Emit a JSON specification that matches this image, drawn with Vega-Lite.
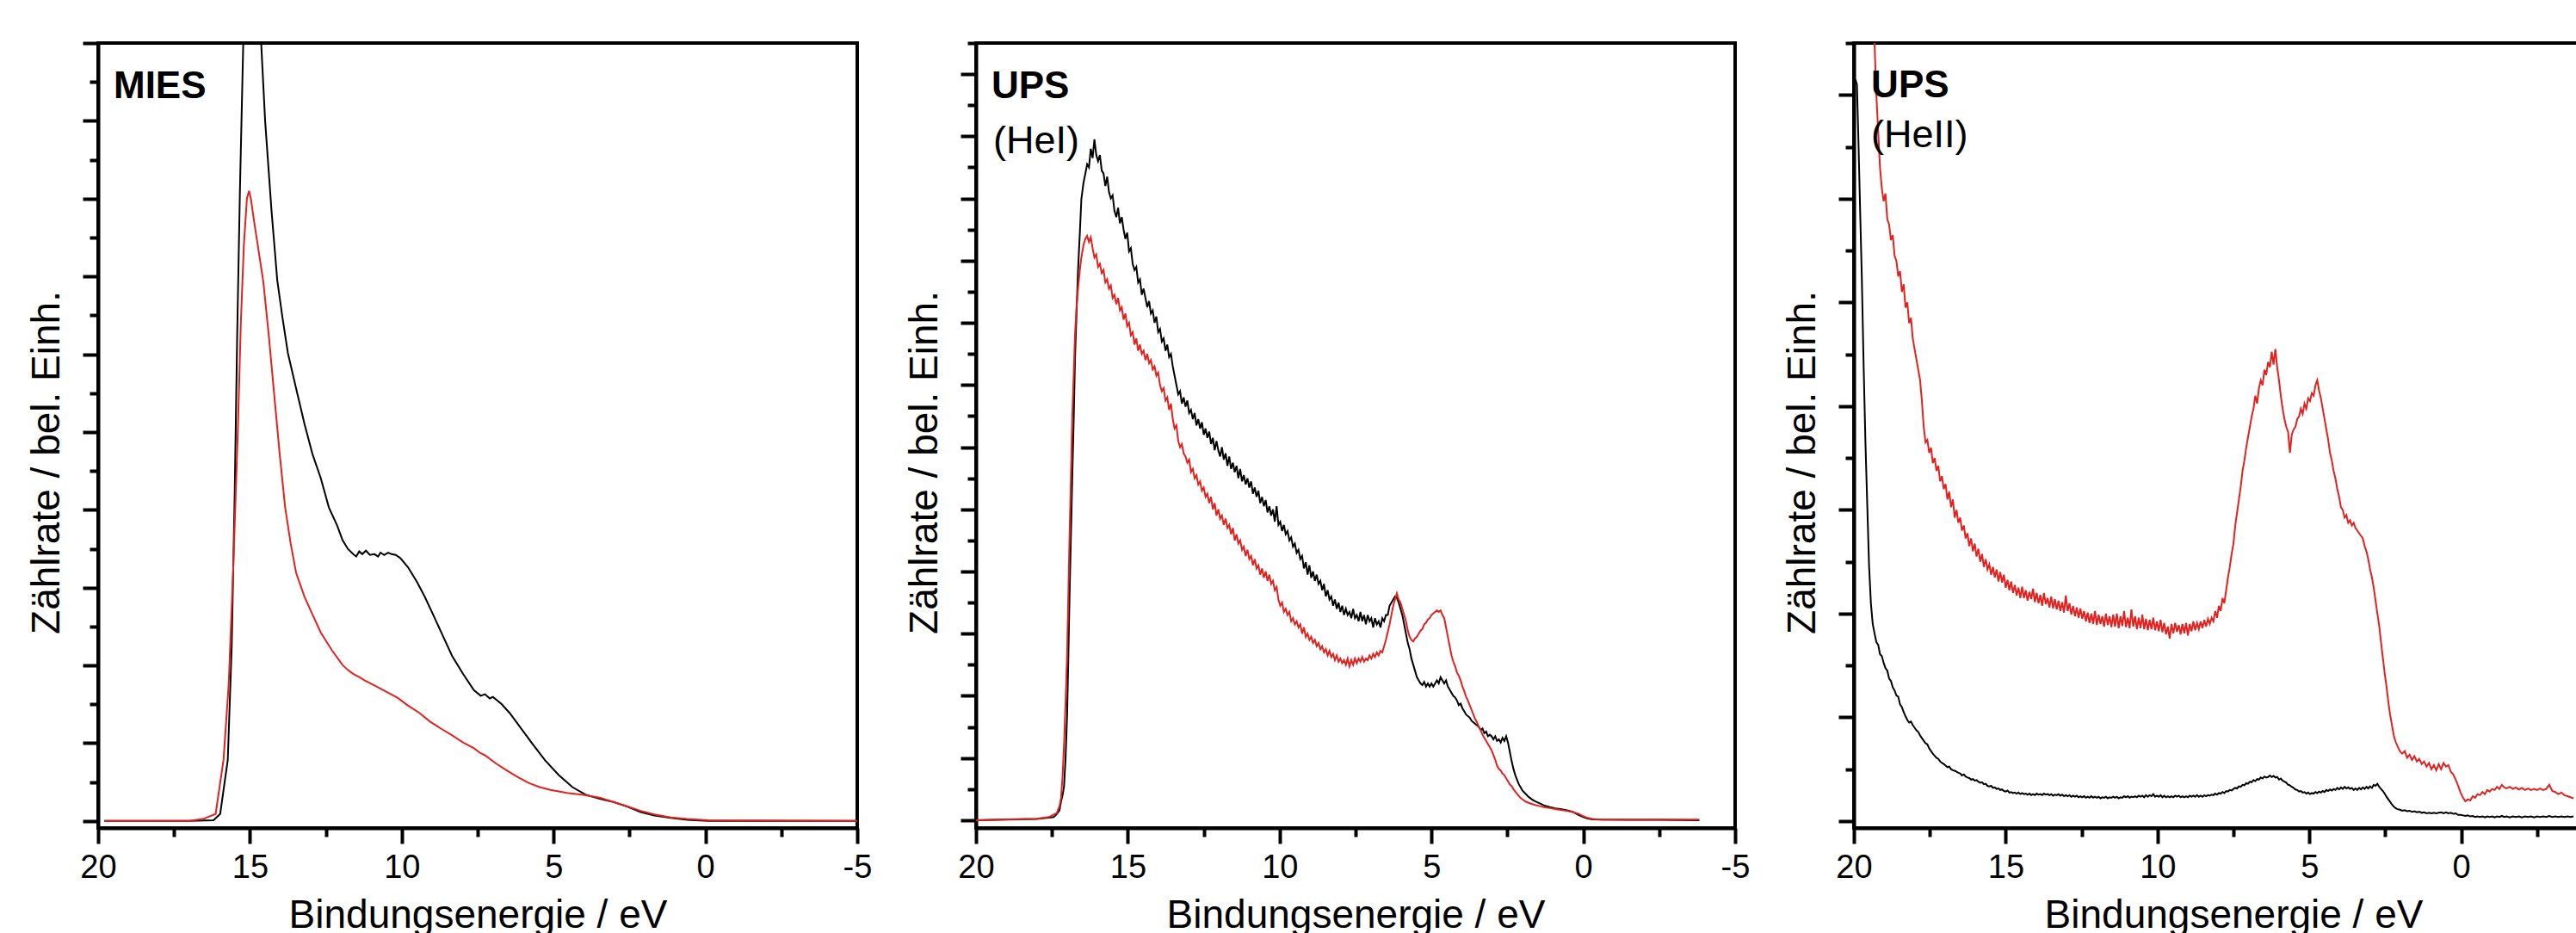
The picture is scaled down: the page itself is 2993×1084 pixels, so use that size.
{
  "$schema": "https://vega.github.io/schema/vega-lite/v6.json",
  "background": "white",
  "padding": {"left": 29, "top": 45, "right": 0, "bottom": 0},
  "spacing": 138,
  "bounds": "flush",
  "config": {
    "font": "Liberation Sans",
    "view": {"stroke": "black", "strokeWidth": 4},
    "axis": {"grid": false, "domainColor": "black", "domainWidth": 4, "tickColor": "black", "tickWidth": 4, "labelColor": "black", "titleColor": "black", "titleFontWeight": "normal", "labelFont": "Liberation Sans", "titleFont": "Liberation Sans"}
  },
  "datasets": {
    "mies": [
      {"E": 19.8, "v": 0, "s": "k"}, {"E": 17, "v": 0, "s": "k"}, {"E": 16.2, "v": 0.02, "s": "k"}, {"E": 15.98, "v": 0.18, "s": "k"}, {"E": 15.73, "v": 1.57, "s": "k"}, {"E": 15.6, "v": 4.5, "s": "k"}, {"E": 15.5, "v": 8.5, "s": "k"}, {"E": 15.42, "v": 12.5, "s": "k"}, {"E": 15.33, "v": 16.2, "s": "k"}, {"E": 15.22, "v": 20.0, "s": "k"}, {"E": 14.63, "v": 20.0, "s": "k"}, {"E": 14.5, "v": 18.0, "s": "k"}, {"E": 14.29, "v": 15.7, "s": "k"}, {"E": 14.1, "v": 13.9, "s": "k"}, {"E": 13.93, "v": 12.95, "s": "k"}, {"E": 13.75, "v": 12.03, "s": "k"}, {"E": 13.48, "v": 11.12, "s": "k"}, {"E": 13.2, "v": 10.2, "s": "k"}, {"E": 12.94, "v": 9.43, "s": "k"}, {"E": 12.67, "v": 8.82, "s": "k"}, {"E": 12.4, "v": 8.06, "s": "k"}, {"E": 12.13, "v": 7.6, "s": "k"}, {"E": 11.95, "v": 7.22, "s": "k"}, {"E": 11.77, "v": 6.99, "s": "k"}, {"E": 11.6, "v": 6.86, "s": "k"}, {"E": 11.5, "v": 6.8, "s": "k"}, {"E": 11.4, "v": 6.93, "s": "k"}, {"E": 11.3, "v": 6.86, "s": "k"}, {"E": 11.18, "v": 6.95, "s": "k"}, {"E": 11.05, "v": 6.84, "s": "k"}, {"E": 10.9, "v": 6.86, "s": "k"}, {"E": 10.78, "v": 6.8, "s": "k"}, {"E": 10.7, "v": 6.9, "s": "k"}, {"E": 10.58, "v": 6.84, "s": "k"}, {"E": 10.45, "v": 6.9, "s": "k"}, {"E": 10.34, "v": 6.86, "s": "k"}, {"E": 10.2, "v": 6.84, "s": "k"}, {"E": 10.05, "v": 6.76, "s": "k"}, {"E": 9.8, "v": 6.53, "s": "k"}, {"E": 9.5, "v": 6.15, "s": "k"}, {"E": 9.24, "v": 5.76, "s": "k"}, {"E": 8.97, "v": 5.31, "s": "k"}, {"E": 8.7, "v": 4.85, "s": "k"}, {"E": 8.34, "v": 4.24, "s": "k"}, {"E": 7.98, "v": 3.78, "s": "k"}, {"E": 7.62, "v": 3.36, "s": "k"}, {"E": 7.4, "v": 3.22, "s": "k"}, {"E": 7.26, "v": 3.26, "s": "k"}, {"E": 7.1, "v": 3.15, "s": "k"}, {"E": 7.0, "v": 3.19, "s": "k"}, {"E": 6.72, "v": 3.01, "s": "k"}, {"E": 6.45, "v": 2.78, "s": "k"}, {"E": 6.09, "v": 2.4, "s": "k"}, {"E": 5.73, "v": 2.02, "s": "k"}, {"E": 5.28, "v": 1.56, "s": "k"}, {"E": 4.83, "v": 1.18, "s": "k"}, {"E": 4.38, "v": 0.87, "s": "k"}, {"E": 3.93, "v": 0.67, "s": "k"}, {"E": 3.48, "v": 0.57, "s": "k"}, {"E": 3.03, "v": 0.49, "s": "k"}, {"E": 2.58, "v": 0.37, "s": "k"}, {"E": 2.13, "v": 0.23, "s": "k"}, {"E": 1.68, "v": 0.14, "s": "k"}, {"E": 1.14, "v": 0.08, "s": "k"}, {"E": 0.6, "v": 0.03, "s": "k"}, {"E": -0.1, "v": 0.0, "s": "k"}, {"E": -5, "v": 0, "s": "k"},
      {"E": 19.8, "v": 0, "s": "r"}, {"E": 17, "v": 0.0, "s": "r"}, {"E": 16.55, "v": 0.05, "s": "r"}, {"E": 16.13, "v": 0.18, "s": "r"}, {"E": 15.87, "v": 1.57, "s": "r"}, {"E": 15.7, "v": 3.5, "s": "r"}, {"E": 15.55, "v": 6.5, "s": "r"}, {"E": 15.4, "v": 10.0, "s": "r"}, {"E": 15.3, "v": 12.8, "s": "r"}, {"E": 15.2, "v": 14.8, "s": "r"}, {"E": 15.1, "v": 16.0, "s": "r"}, {"E": 15.03, "v": 16.2, "s": "r"}, {"E": 14.97, "v": 16.0, "s": "r"}, {"E": 14.86, "v": 15.4, "s": "r"}, {"E": 14.74, "v": 14.79, "s": "r"}, {"E": 14.56, "v": 13.87, "s": "r"}, {"E": 14.38, "v": 12.49, "s": "r"}, {"E": 14.2, "v": 10.96, "s": "r"}, {"E": 14.02, "v": 9.43, "s": "r"}, {"E": 13.84, "v": 8.06, "s": "r"}, {"E": 13.66, "v": 7.14, "s": "r"}, {"E": 13.48, "v": 6.38, "s": "r"}, {"E": 13.2, "v": 5.76, "s": "r"}, {"E": 12.94, "v": 5.31, "s": "r"}, {"E": 12.67, "v": 4.85, "s": "r"}, {"E": 12.3, "v": 4.39, "s": "r"}, {"E": 11.95, "v": 4.01, "s": "r"}, {"E": 11.8, "v": 3.9, "s": "r"}, {"E": 11.7, "v": 3.84, "s": "r"}, {"E": 11.59, "v": 3.78, "s": "r"}, {"E": 11.4, "v": 3.7, "s": "r"}, {"E": 11.23, "v": 3.62, "s": "r"}, {"E": 10.86, "v": 3.47, "s": "r"}, {"E": 10.5, "v": 3.32, "s": "r"}, {"E": 10.14, "v": 3.17, "s": "r"}, {"E": 9.8, "v": 2.97, "s": "r"}, {"E": 9.42, "v": 2.78, "s": "r"}, {"E": 9.06, "v": 2.55, "s": "r"}, {"E": 8.7, "v": 2.37, "s": "r"}, {"E": 8.34, "v": 2.2, "s": "r"}, {"E": 7.98, "v": 2.02, "s": "r"}, {"E": 7.62, "v": 1.87, "s": "r"}, {"E": 7.4, "v": 1.74, "s": "r"}, {"E": 7.26, "v": 1.69, "s": "r"}, {"E": 6.9, "v": 1.48, "s": "r"}, {"E": 6.54, "v": 1.3, "s": "r"}, {"E": 6.18, "v": 1.13, "s": "r"}, {"E": 5.82, "v": 0.98, "s": "r"}, {"E": 5.46, "v": 0.87, "s": "r"}, {"E": 5.1, "v": 0.8, "s": "r"}, {"E": 4.56, "v": 0.72, "s": "r"}, {"E": 4.02, "v": 0.67, "s": "r"}, {"E": 3.48, "v": 0.6, "s": "r"}, {"E": 3.03, "v": 0.49, "s": "r"}, {"E": 2.58, "v": 0.38, "s": "r"}, {"E": 2.13, "v": 0.26, "s": "r"}, {"E": 1.68, "v": 0.17, "s": "r"}, {"E": 1.14, "v": 0.09, "s": "r"}, {"E": 0.6, "v": 0.05, "s": "r"}, {"E": -0.1, "v": 0.02, "s": "r"}, {"E": -5, "v": 0, "s": "r"}
    ],
    "he1": [
      {"E":20,"k":0,"r":0},{"E":19,"k":0.02,"r":0.03},{"E":18,"k":0.04,"r":0.05},{"E":17.6,"k":0.08,"r":0.1},{"E":17.44,"k":0.1,"r":0.18},{"E":17.34,"k":0.2,"r":0.23},{"E":17.25,"k":0.32,"r":0.45},{"E":17.2,"k":0.6,"r":0.71},{"E":17.15,"k":0.8,"r":1.4},{"E":17.1,"k":1.09,"r":2.44},{"E":17.05,"k":2.0,"r":3.8},{"E":17.0,"k":3.38,"r":5.3},{"E":16.96,"k":5.2,"r":7.2},{"E":16.92,"k":7.19,"r":9.12},{"E":16.87,"k":9.3,"r":11.2},{"E":16.83,"k":11.01,"r":12.94},{"E":16.78,"k":13.0,"r":14.4},{"E":16.74,"k":14.83,"r":15.61},{"E":16.69,"k":16.3,"r":16.5},{"E":16.64,"k":17.69,"r":17.1},{"E":16.58,"k":18.9,"r":17.7},{"E":16.53,"k":19.98,"r":18.1},{"E":16.46,"k":20.5,"r":18.5},{"E":16.4,"k":20.8,"r":18.7},{"E":16.34,"k":21.1,"r":18.8},{"E":16.28,"k":21.0,"r":18.6},{"E":16.22,"k":21.6,"r":18.75},{"E":16.16,"k":21.3,"r":18.4},{"E":16.1,"k":21.9,"r":18.1},{"E":16.04,"k":21.4,"r":18.2},{"E":15.98,"k":21.2,"r":17.8},{"E":15.92,"k":21.4,"r":17.9},{"E":15.86,"k":20.9,"r":17.6},{"E":15.8,"k":20.8,"r":17.7},{"E":15.74,"k":20.4,"r":17.3},{"E":15.68,"k":20.7,"r":17.4},{"E":15.62,"k":20.2,"r":17.1},{"E":15.56,"k":20.0,"r":17.2},{"E":15.5,"k":20.1,"r":16.8},{"E":15.44,"k":19.6,"r":16.9},{"E":15.38,"k":19.4,"r":16.6},{"E":15.32,"k":19.7,"r":16.8},{"E":15.26,"k":19.2,"r":16.4},{"E":15.2,"k":19.4,"r":16.5},{"E":15.14,"k":19.0,"r":16.1},{"E":15.08,"k":18.7,"r":16.3},{"E":15.02,"k":18.9,"r":15.9},{"E":14.96,"k":18.3,"r":16.0},{"E":14.9,"k":18.4,"r":15.6},{"E":14.84,"k":17.9,"r":15.7},{"E":14.78,"k":17.7,"r":15.3},{"E":14.72,"k":17.8,"r":15.5},{"E":14.66,"k":17.3,"r":15.1},{"E":14.6,"k":17.4,"r":15.3},{"E":14.54,"k":16.9,"r":15.0},{"E":14.48,"k":17.1,"r":15.1},{"E":14.42,"k":16.8,"r":14.8},{"E":14.36,"k":16.5,"r":15.0},{"E":14.3,"k":16.7,"r":14.7},{"E":14.24,"k":16.3,"r":14.8},{"E":14.18,"k":16.4,"r":14.5},{"E":14.12,"k":16.0,"r":14.6},{"E":14.06,"k":16.2,"r":14.3},{"E":14.0,"k":15.7,"r":14.4},{"E":13.94,"k":15.8,"r":14.0},{"E":13.88,"k":15.4,"r":13.8},{"E":13.82,"k":15.5,"r":13.9},{"E":13.76,"k":15.1,"r":13.5},{"E":13.7,"k":15.3,"r":13.6},{"E":13.64,"k":14.9,"r":13.2},{"E":13.58,"k":15.0,"r":13.4},{"E":13.52,"k":14.6,"r":12.9},{"E":13.46,"k":14.3,"r":12.6},{"E":13.4,"k":14.0,"r":12.7},{"E":13.34,"k":13.7,"r":12.2},{"E":13.28,"k":13.8,"r":12.0},{"E":13.22,"k":13.4,"r":12.1},{"E":13.16,"k":13.6,"r":11.8},{"E":13.1,"k":13.3,"r":11.7},{"E":13.04,"k":13.5,"r":11.5},{"E":12.98,"k":13.1,"r":11.6},{"E":12.92,"k":13.2,"r":11.2},{"E":12.86,"k":12.9,"r":11.3},{"E":12.8,"k":13.1,"r":11.0},{"E":12.74,"k":12.7,"r":11.1},{"E":12.68,"k":12.9,"r":10.8},{"E":12.62,"k":12.6,"r":10.9},{"E":12.56,"k":12.8,"r":10.6},{"E":12.5,"k":12.4,"r":10.7},{"E":12.44,"k":12.6,"r":10.4},{"E":12.38,"k":12.3,"r":10.5},{"E":12.32,"k":12.5,"r":10.2},{"E":12.26,"k":12.1,"r":10.4},{"E":12.2,"k":12.3,"r":10.0},{"E":12.14,"k":11.9,"r":10.2},{"E":12.08,"k":12.2,"r":9.8},{"E":12.02,"k":11.9,"r":10.0},{"E":11.96,"k":11.7,"r":9.7},{"E":11.9,"k":12.0,"r":9.8},{"E":11.84,"k":11.6,"r":9.5},{"E":11.78,"k":11.8,"r":9.7},{"E":11.72,"k":11.4,"r":9.4},{"E":11.66,"k":11.7,"r":9.5},{"E":11.6,"k":11.3,"r":9.2},{"E":11.54,"k":11.5,"r":9.4},{"E":11.48,"k":11.2,"r":9.0},{"E":11.42,"k":11.4,"r":9.2},{"E":11.36,"k":11.0,"r":8.9},{"E":11.3,"k":11.3,"r":9.0},{"E":11.24,"k":10.9,"r":8.7},{"E":11.18,"k":11.1,"r":8.8},{"E":11.12,"k":10.8,"r":8.5},{"E":11.06,"k":11.0,"r":8.7},{"E":11.0,"k":10.7,"r":8.4},{"E":10.94,"k":10.9,"r":8.5},{"E":10.88,"k":10.5,"r":8.2},{"E":10.82,"k":10.7,"r":8.4},{"E":10.76,"k":10.4,"r":8.1},{"E":10.7,"k":10.6,"r":8.2},{"E":10.64,"k":10.2,"r":7.9},{"E":10.58,"k":10.4,"r":8.1},{"E":10.52,"k":10.1,"r":7.8},{"E":10.46,"k":10.3,"r":8.0},{"E":10.4,"k":9.9,"r":7.7},{"E":10.34,"k":10.1,"r":7.9},{"E":10.28,"k":9.8,"r":7.6},{"E":10.22,"k":10.0,"r":7.7},{"E":10.16,"k":9.6,"r":7.4},{"E":10.1,"k":10.1,"r":7.5},{"E":10.04,"k":9.5,"r":7.1},{"E":9.98,"k":9.6,"r":6.9},{"E":9.92,"k":9.3,"r":7.0},{"E":9.86,"k":9.5,"r":6.7},{"E":9.8,"k":9.2,"r":6.8},{"E":9.74,"k":9.3,"r":6.6},{"E":9.68,"k":9.0,"r":6.7},{"E":9.62,"k":9.1,"r":6.4},{"E":9.56,"k":8.8,"r":6.5},{"E":9.5,"k":8.9,"r":6.3},{"E":9.44,"k":8.6,"r":6.4},{"E":9.38,"k":8.7,"r":6.2},{"E":9.32,"k":8.4,"r":6.3},{"E":9.26,"k":8.5,"r":6.0},{"E":9.2,"k":8.1,"r":6.2},{"E":9.14,"k":8.3,"r":5.9},{"E":9.08,"k":7.9,"r":6.0},{"E":9.02,"k":8.2,"r":5.8},{"E":8.96,"k":7.8,"r":5.9},{"E":8.9,"k":8.0,"r":5.7},{"E":8.84,"k":7.7,"r":5.8},{"E":8.78,"k":7.9,"r":5.6},{"E":8.72,"k":7.6,"r":5.7},{"E":8.66,"k":7.7,"r":5.5},{"E":8.6,"k":7.4,"r":5.6},{"E":8.54,"k":7.6,"r":5.4},{"E":8.48,"k":7.2,"r":5.5},{"E":8.42,"k":7.4,"r":5.3},{"E":8.36,"k":7.1,"r":5.45},{"E":8.3,"k":7.2,"r":5.25},{"E":8.24,"k":6.9,"r":5.35},{"E":8.18,"k":7.1,"r":5.15},{"E":8.12,"k":6.8,"r":5.3},{"E":8.06,"k":7.0,"r":5.1},{"E":8.0,"k":6.7,"r":5.2},{"E":7.94,"k":6.9,"r":5.05},{"E":7.88,"k":6.6,"r":5.15},{"E":7.82,"k":6.8,"r":5.0},{"E":7.76,"k":6.6,"r":5.2},{"E":7.7,"k":6.7,"r":4.95},{"E":7.64,"k":6.5,"r":5.15},{"E":7.58,"k":6.8,"r":5.0},{"E":7.52,"k":6.5,"r":5.2},{"E":7.46,"k":6.6,"r":5.05},{"E":7.4,"k":6.4,"r":5.2},{"E":7.34,"k":6.7,"r":5.1},{"E":7.28,"k":6.4,"r":5.25},{"E":7.22,"k":6.6,"r":5.1},{"E":7.16,"k":6.3,"r":5.2},{"E":7.1,"k":6.6,"r":5.15},{"E":7.04,"k":6.4,"r":5.3},{"E":6.98,"k":6.5,"r":5.2},{"E":6.92,"k":6.2,"r":5.35},{"E":6.86,"k":6.5,"r":5.25},{"E":6.8,"k":6.3,"r":5.4},{"E":6.74,"k":6.4,"r":5.3},{"E":6.68,"k":6.2,"r":5.45},{"E":6.62,"k":6.5,"r":5.4},{"E":6.56,"k":6.4,"r":5.6},{"E":6.5,"k":6.6,"r":5.8},{"E":6.44,"k":6.6,"r":6.05},{"E":6.38,"k":6.9,"r":6.3},{"E":6.32,"k":7.0,"r":6.6},{"E":6.26,"k":7.1,"r":6.9},{"E":6.2,"k":7.2,"r":7.1},{"E":6.14,"k":7.15,"r":7.3},{"E":6.08,"k":7.0,"r":7.1},{"E":6.02,"k":6.8,"r":7.0},{"E":5.96,"k":6.6,"r":6.8},{"E":5.9,"k":6.3,"r":6.6},{"E":5.84,"k":6.0,"r":6.4},{"E":5.78,"k":5.7,"r":6.1},{"E":5.72,"k":5.5,"r":5.9},{"E":5.66,"k":5.2,"r":5.8},{"E":5.6,"k":5.0,"r":5.75},{"E":5.54,"k":4.8,"r":5.85},{"E":5.48,"k":4.6,"r":5.9},{"E":5.42,"k":4.5,"r":6.0},{"E":5.36,"k":4.4,"r":6.1},{"E":5.3,"k":4.35,"r":6.15},{"E":5.24,"k":4.45,"r":6.3},{"E":5.18,"k":4.3,"r":6.35},{"E":5.12,"k":4.4,"r":6.45},{"E":5.06,"k":4.3,"r":6.5},{"E":5.0,"k":4.4,"r":6.6},{"E":4.94,"k":4.3,"r":6.65},{"E":4.88,"k":4.4,"r":6.7},{"E":4.82,"k":4.5,"r":6.75},{"E":4.76,"k":4.4,"r":6.7},{"E":4.7,"k":4.6,"r":6.75},{"E":4.64,"k":4.5,"r":6.6},{"E":4.58,"k":4.4,"r":6.5},{"E":4.52,"k":4.5,"r":6.2},{"E":4.46,"k":4.3,"r":5.9},{"E":4.4,"k":4.2,"r":5.6},{"E":4.34,"k":4.1,"r":5.3},{"E":4.28,"k":4.0,"r":5.1},{"E":4.22,"k":3.95,"r":4.95},{"E":4.16,"k":3.85,"r":4.75},{"E":4.1,"k":3.7,"r":4.65},{"E":4.04,"k":3.75,"r":4.5},{"E":3.98,"k":3.6,"r":4.3},{"E":3.92,"k":3.5,"r":4.15},{"E":3.86,"k":3.4,"r":3.97},{"E":3.8,"k":3.35,"r":3.85},{"E":3.74,"k":3.3,"r":3.7},{"E":3.68,"k":3.2,"r":3.55},{"E":3.62,"k":3.15,"r":3.4},{"E":3.56,"k":3.1,"r":3.25},{"E":3.5,"k":3.05,"r":3.15},{"E":3.44,"k":3.0,"r":3.0},{"E":3.38,"k":2.9,"r":2.9},{"E":3.32,"k":2.95,"r":2.75},{"E":3.26,"k":2.8,"r":2.65},{"E":3.2,"k":2.85,"r":2.55},{"E":3.14,"k":2.7,"r":2.45},{"E":3.08,"k":2.75,"r":2.35},{"E":3.02,"k":2.7,"r":2.25},{"E":2.96,"k":2.6,"r":2.1},{"E":2.9,"k":2.7,"r":1.95},{"E":2.84,"k":2.55,"r":1.75},{"E":2.78,"k":2.6,"r":1.65},{"E":2.72,"k":2.5,"r":1.6},{"E":2.66,"k":2.65,"r":1.5},{"E":2.6,"k":2.55,"r":1.45},{"E":2.54,"k":2.7,"r":1.35},{"E":2.48,"k":2.5,"r":1.25},{"E":2.42,"k":2.2,"r":1.15},{"E":2.36,"k":1.9,"r":1.1},{"E":2.3,"k":1.65,"r":1.0},{"E":2.24,"k":1.45,"r":0.92},{"E":2.18,"k":1.3,"r":0.85},{"E":2.12,"k":1.15,"r":0.78},{"E":2.06,"k":1.05,"r":0.71},{"E":2.0,"k":0.95,"r":0.67},{"E":1.9,"k":0.85,"r":0.6},{"E":1.8,"k":0.75,"r":0.56},{"E":1.68,"k":0.66,"r":0.52},{"E":1.59,"k":0.61,"r":0.49},{"E":1.45,"k":0.55,"r":0.46},{"E":1.3,"k":0.48,"r":0.42},{"E":1.1,"k":0.42,"r":0.39},{"E":0.92,"k":0.38,"r":0.36},{"E":0.75,"k":0.36,"r":0.33},{"E":0.54,"k":0.32,"r":0.3},{"E":0.35,"k":0.27,"r":0.26},{"E":0.16,"k":0.17,"r":0.21},{"E":0.0,"k":0.1,"r":0.13},{"E":-0.12,"k":0.06,"r":0.08},{"E":-0.3,"k":0.03,"r":0.04},{"E":-0.6,"k":0.02,"r":0.02},{"E":-1.5,"k":0.01,"r":0.02},{"E":-2.5,"k":0.01,"r":0.02},{"E":-3.82,"k":0,"r":0.02}
    ],
    "he2": [
      {"E":19.95,"k":14.3,"r":null},{"E":19.9,"k":14.2,"r":null},{"E":19.85,"k":13.1,"r":null},{"E":19.8,"k":11.9,"r":null},{"E":19.74,"k":10.5,"r":null},{"E":19.68,"k":8.8,"r":null},{"E":19.62,"k":7.3,"r":null},{"E":19.56,"k":6.1,"r":null},{"E":19.5,"k":4.92,"r":null},{"E":19.44,"k":4.2,"r":null},{"E":19.38,"k":3.8,"r":null},{"E":19.32,"k":3.62,"r":15.0},{"E":19.26,"k":3.45,"r":14.0},{"E":19.2,"k":3.4,"r":13.3},{"E":19.14,"k":3.22,"r":12.6},{"E":19.08,"k":3.18,"r":12.2},{"E":19.02,"k":3.05,"r":11.95},{"E":18.96,"k":2.95,"r":12.1},{"E":18.9,"k":2.9,"r":11.6},{"E":18.84,"k":2.75,"r":11.5},{"E":18.78,"k":2.7,"r":11.2},{"E":18.72,"k":2.58,"r":11.3},{"E":18.66,"k":2.52,"r":10.9},{"E":18.6,"k":2.42,"r":10.8},{"E":18.54,"k":2.4,"r":10.5},{"E":18.48,"k":2.25,"r":10.6},{"E":18.42,"k":2.2,"r":10.2},{"E":18.36,"k":2.1,"r":10.35},{"E":18.3,"k":2.02,"r":9.9},{"E":18.24,"k":1.95,"r":10.0},{"E":18.18,"k":1.9,"r":9.6},{"E":18.12,"k":1.92,"r":9.7},{"E":18.06,"k":1.85,"r":9.3},{"E":18.0,"k":1.8,"r":9.1},{"E":17.94,"k":1.75,"r":8.9},{"E":17.88,"k":1.72,"r":8.7},{"E":17.82,"k":1.65,"r":8.5},{"E":17.76,"k":1.6,"r":8.1},{"E":17.7,"k":1.55,"r":7.6},{"E":17.64,"k":1.5,"r":7.3},{"E":17.58,"k":1.48,"r":7.35},{"E":17.52,"k":1.4,"r":7.1},{"E":17.46,"k":1.35,"r":7.2},{"E":17.4,"k":1.3,"r":6.9},{"E":17.34,"k":1.26,"r":7.0},{"E":17.28,"k":1.22,"r":6.75},{"E":17.22,"k":1.2,"r":6.85},{"E":17.16,"k":1.15,"r":6.55},{"E":17.1,"k":1.12,"r":6.65},{"E":17.04,"k":1.1,"r":6.4},{"E":16.98,"k":1.07,"r":6.5},{"E":16.92,"k":1.04,"r":6.2},{"E":16.86,"k":1.05,"r":6.35},{"E":16.8,"k":1.0,"r":6.05},{"E":16.74,"k":0.98,"r":6.2},{"E":16.68,"k":0.97,"r":5.85},{"E":16.62,"k":0.95,"r":6.0},{"E":16.56,"k":0.93,"r":5.75},{"E":16.5,"k":0.92,"r":5.85},{"E":16.44,"k":0.88,"r":5.6},{"E":16.38,"k":0.9,"r":5.7},{"E":16.32,"k":0.86,"r":5.45},{"E":16.26,"k":0.84,"r":5.55},{"E":16.2,"k":0.83,"r":5.3},{"E":16.14,"k":0.8,"r":5.45},{"E":16.08,"k":0.81,"r":5.2},{"E":16.02,"k":0.78,"r":5.35},{"E":15.96,"k":0.79,"r":5.1},{"E":15.9,"k":0.76,"r":5.25},{"E":15.84,"k":0.74,"r":5.0},{"E":15.78,"k":0.75,"r":5.15},{"E":15.72,"k":0.71,"r":4.9},{"E":15.66,"k":0.72,"r":5.05},{"E":15.6,"k":0.68,"r":4.85},{"E":15.54,"k":0.67,"r":4.95},{"E":15.48,"k":0.68,"r":4.75},{"E":15.42,"k":0.64,"r":4.9},{"E":15.36,"k":0.65,"r":4.7},{"E":15.3,"k":0.62,"r":4.85},{"E":15.24,"k":0.63,"r":4.62},{"E":15.18,"k":0.6,"r":4.8},{"E":15.12,"k":0.61,"r":4.6},{"E":15.06,"k":0.58,"r":4.75},{"E":15.0,"k":0.57,"r":4.5},{"E":14.94,"k":0.59,"r":4.65},{"E":14.88,"k":0.55,"r":4.45},{"E":14.82,"k":0.56,"r":4.62},{"E":14.76,"k":0.54,"r":4.4},{"E":14.7,"k":0.55,"r":4.55},{"E":14.64,"k":0.53,"r":4.35},{"E":14.58,"k":0.55,"r":4.5},{"E":14.52,"k":0.52,"r":4.3},{"E":14.46,"k":0.54,"r":4.52},{"E":14.4,"k":0.52,"r":4.3},{"E":14.34,"k":0.53,"r":4.45},{"E":14.28,"k":0.51,"r":4.25},{"E":14.22,"k":0.53,"r":4.42},{"E":14.16,"k":0.5,"r":4.28},{"E":14.1,"k":0.52,"r":4.48},{"E":14.04,"k":0.5,"r":4.22},{"E":13.98,"k":0.53,"r":4.4},{"E":13.92,"k":0.51,"r":4.2},{"E":13.86,"k":0.52,"r":4.36},{"E":13.8,"k":0.5,"r":4.15},{"E":13.74,"k":0.53,"r":4.4},{"E":13.68,"k":0.51,"r":4.18},{"E":13.62,"k":0.52,"r":4.3},{"E":13.56,"k":0.5,"r":4.12},{"E":13.5,"k":0.52,"r":4.33},{"E":13.44,"k":0.49,"r":4.1},{"E":13.38,"k":0.51,"r":4.28},{"E":13.32,"k":0.5,"r":4.08},{"E":13.26,"k":0.52,"r":4.25},{"E":13.2,"k":0.49,"r":4.05},{"E":13.14,"k":0.51,"r":4.22},{"E":13.08,"k":0.48,"r":4.02},{"E":13.02,"k":0.5,"r":4.35},{"E":12.96,"k":0.48,"r":4.05},{"E":12.9,"k":0.5,"r":4.2},{"E":12.84,"k":0.47,"r":3.98},{"E":12.78,"k":0.49,"r":4.15},{"E":12.72,"k":0.47,"r":3.95},{"E":12.66,"k":0.49,"r":4.12},{"E":12.6,"k":0.46,"r":3.92},{"E":12.54,"k":0.48,"r":4.1},{"E":12.48,"k":0.46,"r":3.9},{"E":12.42,"k":0.48,"r":4.05},{"E":12.36,"k":0.45,"r":3.85},{"E":12.3,"k":0.47,"r":4.02},{"E":12.24,"k":0.45,"r":3.82},{"E":12.18,"k":0.48,"r":4.0},{"E":12.12,"k":0.45,"r":3.8},{"E":12.06,"k":0.47,"r":4.05},{"E":12.0,"k":0.45,"r":3.78},{"E":11.94,"k":0.47,"r":3.98},{"E":11.88,"k":0.44,"r":3.8},{"E":11.82,"k":0.46,"r":3.95},{"E":11.76,"k":0.45,"r":3.75},{"E":11.7,"k":0.47,"r":4.0},{"E":11.64,"k":0.44,"r":3.78},{"E":11.58,"k":0.46,"r":3.95},{"E":11.52,"k":0.45,"r":3.74},{"E":11.46,"k":0.47,"r":3.98},{"E":11.4,"k":0.45,"r":3.75},{"E":11.34,"k":0.47,"r":4.0},{"E":11.28,"k":0.44,"r":3.72},{"E":11.22,"k":0.46,"r":3.95},{"E":11.16,"k":0.45,"r":3.76},{"E":11.1,"k":0.48,"r":4.05},{"E":11.04,"k":0.46,"r":3.74},{"E":10.98,"k":0.48,"r":3.92},{"E":10.92,"k":0.45,"r":3.72},{"E":10.86,"k":0.47,"r":4.08},{"E":10.8,"k":0.46,"r":3.75},{"E":10.74,"k":0.48,"r":3.95},{"E":10.68,"k":0.46,"r":3.7},{"E":10.62,"k":0.49,"r":3.92},{"E":10.56,"k":0.47,"r":3.72},{"E":10.5,"k":0.49,"r":3.98},{"E":10.44,"k":0.46,"r":3.7},{"E":10.38,"k":0.5,"r":3.9},{"E":10.32,"k":0.47,"r":3.68},{"E":10.26,"k":0.5,"r":3.88},{"E":10.2,"k":0.48,"r":3.7},{"E":10.14,"k":0.52,"r":3.92},{"E":10.08,"k":0.47,"r":3.68},{"E":10.02,"k":0.49,"r":3.85},{"E":9.96,"k":0.47,"r":3.66},{"E":9.9,"k":0.5,"r":3.88},{"E":9.84,"k":0.46,"r":3.64},{"E":9.78,"k":0.49,"r":3.82},{"E":9.72,"k":0.46,"r":3.6},{"E":9.66,"k":0.48,"r":3.75},{"E":9.6,"k":0.46,"r":3.52},{"E":9.54,"k":0.48,"r":3.8},{"E":9.48,"k":0.46,"r":3.62},{"E":9.42,"k":0.49,"r":3.82},{"E":9.36,"k":0.47,"r":3.65},{"E":9.3,"k":0.49,"r":3.78},{"E":9.24,"k":0.46,"r":3.6},{"E":9.18,"k":0.48,"r":3.8},{"E":9.12,"k":0.46,"r":3.62},{"E":9.06,"k":0.48,"r":3.82},{"E":9.0,"k":0.46,"r":3.58},{"E":8.94,"k":0.49,"r":3.8},{"E":8.88,"k":0.47,"r":3.66},{"E":8.82,"k":0.49,"r":3.85},{"E":8.76,"k":0.47,"r":3.68},{"E":8.7,"k":0.5,"r":3.82},{"E":8.64,"k":0.47,"r":3.7},{"E":8.58,"k":0.49,"r":3.85},{"E":8.52,"k":0.47,"r":3.72},{"E":8.46,"k":0.5,"r":3.88},{"E":8.4,"k":0.48,"r":3.75},{"E":8.34,"k":0.5,"r":3.9},{"E":8.28,"k":0.49,"r":3.8},{"E":8.22,"k":0.51,"r":3.92},{"E":8.16,"k":0.5,"r":3.85},{"E":8.1,"k":0.53,"r":4.05},{"E":8.04,"k":0.51,"r":3.92},{"E":7.98,"k":0.54,"r":4.15},{"E":7.92,"k":0.53,"r":4.05},{"E":7.86,"k":0.56,"r":4.3},{"E":7.8,"k":0.54,"r":4.2},{"E":7.74,"k":0.58,"r":4.45},{"E":7.68,"k":0.57,"r":4.7},{"E":7.62,"k":0.6,"r":4.9},{"E":7.56,"k":0.59,"r":5.15},{"E":7.5,"k":0.62,"r":5.35},{"E":7.44,"k":0.64,"r":5.7},{"E":7.38,"k":0.63,"r":5.95},{"E":7.32,"k":0.67,"r":6.2},{"E":7.26,"k":0.66,"r":6.45},{"E":7.2,"k":0.7,"r":6.75},{"E":7.14,"k":0.69,"r":6.95},{"E":7.08,"k":0.73,"r":7.2},{"E":7.02,"k":0.72,"r":7.4},{"E":6.96,"k":0.76,"r":7.6},{"E":6.9,"k":0.75,"r":7.8},{"E":6.84,"k":0.79,"r":7.95},{"E":6.78,"k":0.77,"r":8.2},{"E":6.72,"k":0.81,"r":8.05},{"E":6.66,"k":0.8,"r":8.35},{"E":6.6,"k":0.84,"r":8.5},{"E":6.54,"k":0.82,"r":8.4},{"E":6.48,"k":0.86,"r":8.7},{"E":6.42,"k":0.84,"r":8.6},{"E":6.36,"k":0.85,"r":8.85},{"E":6.3,"k":0.88,"r":8.75},{"E":6.24,"k":0.85,"r":9.05},{"E":6.18,"k":0.87,"r":8.8},{"E":6.12,"k":0.84,"r":9.1},{"E":6.06,"k":0.85,"r":8.75},{"E":6.0,"k":0.8,"r":8.5},{"E":5.94,"k":0.82,"r":8.2},{"E":5.88,"k":0.78,"r":7.95},{"E":5.82,"k":0.76,"r":7.75},{"E":5.76,"k":0.74,"r":7.6},{"E":5.7,"k":0.7,"r":7.5},{"E":5.64,"k":0.69,"r":7.1},{"E":5.58,"k":0.66,"r":7.45},{"E":5.52,"k":0.64,"r":7.55},{"E":5.46,"k":0.61,"r":7.6},{"E":5.4,"k":0.6,"r":7.75},{"E":5.34,"k":0.57,"r":7.8},{"E":5.28,"k":0.58,"r":7.95},{"E":5.22,"k":0.55,"r":7.85},{"E":5.16,"k":0.56,"r":8.05},{"E":5.1,"k":0.53,"r":7.95},{"E":5.04,"k":0.55,"r":8.15},{"E":4.98,"k":0.52,"r":8.1},{"E":4.92,"k":0.54,"r":8.25},{"E":4.86,"k":0.53,"r":8.2},{"E":4.8,"k":0.56,"r":8.4},{"E":4.74,"k":0.54,"r":8.5},{"E":4.68,"k":0.57,"r":8.3},{"E":4.62,"k":0.55,"r":8.15},{"E":4.56,"k":0.58,"r":7.95},{"E":4.5,"k":0.56,"r":7.75},{"E":4.44,"k":0.6,"r":7.55},{"E":4.38,"k":0.58,"r":7.35},{"E":4.32,"k":0.61,"r":7.1},{"E":4.26,"k":0.59,"r":6.95},{"E":4.2,"k":0.62,"r":6.75},{"E":4.14,"k":0.6,"r":6.6},{"E":4.08,"k":0.64,"r":6.4},{"E":4.02,"k":0.61,"r":6.25},{"E":3.96,"k":0.65,"r":6.05},{"E":3.9,"k":0.62,"r":6.0},{"E":3.84,"k":0.66,"r":5.85},{"E":3.78,"k":0.63,"r":5.9},{"E":3.72,"k":0.65,"r":5.75},{"E":3.66,"k":0.62,"r":5.8},{"E":3.6,"k":0.64,"r":5.7},{"E":3.54,"k":0.6,"r":5.75},{"E":3.48,"k":0.63,"r":5.65},{"E":3.42,"k":0.6,"r":5.6},{"E":3.36,"k":0.64,"r":5.55},{"E":3.3,"k":0.61,"r":5.5},{"E":3.24,"k":0.65,"r":5.45},{"E":3.18,"k":0.62,"r":5.3},{"E":3.12,"k":0.66,"r":5.2},{"E":3.06,"k":0.63,"r":5.05},{"E":3.0,"k":0.67,"r":4.85},{"E":2.94,"k":0.64,"r":4.7},{"E":2.88,"k":0.7,"r":4.5},{"E":2.82,"k":0.68,"r":4.25},{"E":2.76,"k":0.72,"r":4.0},{"E":2.7,"k":0.66,"r":3.77},{"E":2.64,"k":0.62,"r":3.45},{"E":2.58,"k":0.58,"r":3.15},{"E":2.52,"k":0.53,"r":2.85},{"E":2.46,"k":0.47,"r":2.6},{"E":2.4,"k":0.42,"r":2.3},{"E":2.34,"k":0.37,"r":2.05},{"E":2.28,"k":0.32,"r":1.85},{"E":2.22,"k":0.28,"r":1.65},{"E":2.16,"k":0.25,"r":1.53},{"E":2.1,"k":0.23,"r":1.45},{"E":2.02,"k":0.22,"r":1.35},{"E":1.94,"k":0.2,"r":1.3},{"E":1.86,"k":0.21,"r":1.35},{"E":1.78,"k":0.19,"r":1.22},{"E":1.7,"k":0.2,"r":1.28},{"E":1.62,"k":0.18,"r":1.18},{"E":1.54,"k":0.19,"r":1.25},{"E":1.46,"k":0.17,"r":1.15},{"E":1.38,"k":0.18,"r":1.2},{"E":1.3,"k":0.16,"r":1.1},{"E":1.22,"k":0.17,"r":1.15},{"E":1.14,"k":0.15,"r":1.05},{"E":1.06,"k":0.16,"r":1.12},{"E":0.98,"k":0.15,"r":1.0},{"E":0.9,"k":0.16,"r":1.08},{"E":0.82,"k":0.15,"r":0.98},{"E":0.74,"k":0.16,"r":1.1},{"E":0.66,"k":0.17,"r":1.0},{"E":0.58,"k":0.15,"r":1.12},{"E":0.5,"k":0.17,"r":1.05},{"E":0.42,"k":0.15,"r":1.08},{"E":0.34,"k":0.16,"r":0.95},{"E":0.26,"k":0.14,"r":0.9},{"E":0.18,"k":0.15,"r":0.8},{"E":0.1,"k":0.12,"r":0.68},{"E":0.02,"k":0.12,"r":0.55},{"E":-0.06,"k":0.11,"r":0.45},{"E":-0.14,"k":0.1,"r":0.38},{"E":-0.22,"k":0.11,"r":0.42},{"E":-0.3,"k":0.09,"r":0.4},{"E":-0.38,"k":0.1,"r":0.48},{"E":-0.46,"k":0.08,"r":0.45},{"E":-0.54,"k":0.09,"r":0.52},{"E":-0.62,"k":0.08,"r":0.5},{"E":-0.7,"k":0.09,"r":0.56},{"E":-0.78,"k":0.07,"r":0.52},{"E":-0.86,"k":0.09,"r":0.6},{"E":-0.94,"k":0.08,"r":0.57},{"E":-1.02,"k":0.09,"r":0.62},{"E":-1.1,"k":0.07,"r":0.6},{"E":-1.18,"k":0.09,"r":0.66},{"E":-1.26,"k":0.08,"r":0.62},{"E":-1.34,"k":0.1,"r":0.7},{"E":-1.42,"k":0.08,"r":0.65},{"E":-1.5,"k":0.09,"r":0.63},{"E":-1.6,"k":0.07,"r":0.66},{"E":-1.7,"k":0.09,"r":0.62},{"E":-1.8,"k":0.08,"r":0.65},{"E":-1.9,"k":0.09,"r":0.61},{"E":-2.0,"k":0.07,"r":0.64},{"E":-2.1,"k":0.09,"r":0.6},{"E":-2.2,"k":0.08,"r":0.63},{"E":-2.3,"k":0.09,"r":0.6},{"E":-2.4,"k":0.07,"r":0.62},{"E":-2.5,"k":0.09,"r":0.6},{"E":-2.6,"k":0.08,"r":0.63},{"E":-2.7,"k":0.09,"r":0.6},{"E":-2.8,"k":0.08,"r":0.62},{"E":-2.9,"k":0.1,"r":0.7},{"E":-3.0,"k":0.08,"r":0.58},{"E":-3.1,"k":0.09,"r":0.56},{"E":-3.2,"k":0.08,"r":0.52},{"E":-3.3,"k":0.09,"r":0.55},{"E":-3.4,"k":0.08,"r":0.5},{"E":-3.5,"k":0.09,"r":0.48},{"E":-3.6,"k":0.08,"r":0.46},{"E":-3.7,"k":0.09,"r":0.44}
    ]
  },
  "hconcat": [
    {
      "width": 882, "height": 912,
      "layer": [
        {
          "data": {"name": "mies"},
          "mark": {"type": "line", "clip": true, "strokeWidth": 2},
          "encoding": {
            "x": {"field": "E", "type": "quantitative", "scale": {"domain": [20, -5], "nice": false, "zero": false},
                  "axis": {"orient": "bottom", "values": [20, 15, 10, 5, 0, -5], "tickSize": 18, "labelFontSize": 38, "labelPadding": 39, "labelBaseline": "alphabetic", "labelFlush": false, "labelExpr": "'' + datum.value", "title": "Bindungsenergie / eV", "titleFontSize": 46, "titleBaseline": "alphabetic", "titleY": 115}},
            "y": {"field": "v", "type": "quantitative", "scale": {"domain": [-0.18, 20], "nice": false, "zero": false},
                  "axis": {"orient": "left", "values": [0, 2, 4, 6, 8, 10, 12, 14, 16, 18, 20], "tickSize": 18, "labels": false, "title": "Zählrate / bel. Einh.", "titleFontSize": 46, "titleBaseline": "alphabetic", "titleX": -46, "titleY": 487}},
            "color": {"field": "s", "type": "nominal", "scale": {"domain": ["k", "r"], "range": ["#000000", "#e3221f"]}, "legend": null}
          }
        },
        {
          "data": {"name": "mies"},
          "mark": {"type": "point", "opacity": 0},
          "encoding": {
            "x": {"field": "E", "type": "quantitative", "scale": {"domain": [20, -5], "nice": false, "zero": false},
                  "axis": {"orient": "bottom", "values": [17.5, 12.5, 7.5, 2.5, -2.5], "tickSize": 10, "labels": false, "domain": false, "title": null}},
            "y": {"field": "v", "type": "quantitative", "scale": {"domain": [-0.18, 20], "nice": false, "zero": false},
                  "axis": {"orient": "left", "values": [1, 3, 5, 7, 9, 11, 13, 15, 17, 19], "tickSize": 10, "labels": false, "domain": false, "title": null}}
          }
        },
        {
          "data": {"values": [{}]},
          "mark": {"type": "text", "text": "MIES", "fontSize": 44, "fontWeight": "bold", "align": "left", "baseline": "alphabetic", "color": "black"},
          "encoding": {"x": {"datum": 19.49, "type": "quantitative", "axis": null}, "y": {"datum": 18.58, "type": "quantitative", "axis": null}}
        }
      ],
      "resolve": {"axis": {"x": "independent", "y": "independent"}}
    },
    {
      "width": 882, "height": 912,
      "layer": [
        {
          "data": {"name": "he1"},
          "transform": [{"fold": ["k", "r"], "as": ["s", "v"]}],
          "mark": {"type": "line", "clip": true, "strokeWidth": 2},
          "encoding": {
            "x": {"field": "E", "type": "quantitative", "scale": {"domain": [20, -5], "nice": false, "zero": false},
                  "axis": {"orient": "bottom", "values": [20, 15, 10, 5, 0, -5], "tickSize": 18, "labelFontSize": 38, "labelPadding": 39, "labelBaseline": "alphabetic", "labelFlush": false, "labelExpr": "'' + datum.value", "title": "Bindungsenergie / eV", "titleFontSize": 46, "titleBaseline": "alphabetic", "titleY": 115}},
            "y": {"field": "v", "type": "quantitative", "scale": {"domain": [-0.25, 25], "nice": false, "zero": false},
                  "axis": {"orient": "left", "values": [0, 2, 4, 6, 8, 10, 12, 14, 16, 18, 20, 22, 24], "tickSize": 18, "labels": false, "title": "Zählrate / bel. Einh.", "titleFontSize": 46, "titleBaseline": "alphabetic", "titleX": -46, "titleY": 487}},
            "color": {"field": "s", "type": "nominal", "scale": {"domain": ["k", "r"], "range": ["#000000", "#e3221f"]}, "legend": null}
          }
        },
        {
          "data": {"name": "he1"},
          "transform": [{"fold": ["k", "r"], "as": ["s", "v"]}],
          "mark": {"type": "point", "opacity": 0},
          "encoding": {
            "x": {"field": "E", "type": "quantitative", "scale": {"domain": [20, -5], "nice": false, "zero": false},
                  "axis": {"orient": "bottom", "values": [17.5, 12.5, 7.5, 2.5, -2.5], "tickSize": 10, "labels": false, "domain": false, "title": null}},
            "y": {"field": "v", "type": "quantitative", "scale": {"domain": [-0.25, 25], "nice": false, "zero": false},
                  "axis": {"orient": "left", "values": [1, 3, 5, 7, 9, 11, 13, 15, 17, 19, 21, 23, 25], "tickSize": 10, "labels": false, "domain": false, "title": null}}
          }
        },
        {
          "data": {"values": [{}]},
          "mark": {"type": "text", "text": "UPS", "fontSize": 44, "fontWeight": "bold", "align": "left", "baseline": "alphabetic", "color": "black"},
          "encoding": {"x": {"datum": 19.49, "type": "quantitative", "axis": null}, "y": {"datum": 23.23, "type": "quantitative", "axis": null}}
        },
        {
          "data": {"values": [{}]},
          "mark": {"type": "text", "text": "(HeI)", "fontSize": 45, "align": "left", "baseline": "alphabetic", "color": "black"},
          "encoding": {"x": {"datum": 19.43, "type": "quantitative", "axis": null}, "y": {"datum": 21.46, "type": "quantitative", "axis": null}}
        }
      ],
      "resolve": {"axis": {"x": "independent", "y": "independent"}}
    },
    {
      "width": 882, "height": 912,
      "layer": [
        {
          "data": {"name": "he2"},
          "transform": [{"fold": ["k", "r"], "as": ["s", "v"]}],
          "mark": {"type": "line", "clip": true, "strokeWidth": 2},
          "encoding": {
            "x": {"field": "E", "type": "quantitative", "scale": {"domain": [20, -5], "nice": false, "zero": false},
                  "axis": {"orient": "bottom", "values": [20, 15, 10, 5, 0, -5], "tickSize": 18, "labelFontSize": 38, "labelPadding": 39, "labelBaseline": "alphabetic", "labelFlush": false, "labelExpr": "'' + datum.value", "title": "Bindungsenergie / eV", "titleFontSize": 46, "titleBaseline": "alphabetic", "titleY": 115}},
            "y": {"field": "v", "type": "quantitative", "scale": {"domain": [-0.133, 15], "nice": false, "zero": false},
                  "axis": {"orient": "left", "values": [0, 2, 4, 6, 8, 10, 12, 14], "tickSize": 18, "labels": false, "title": "Zählrate / bel. Einh.", "titleFontSize": 46, "titleBaseline": "alphabetic", "titleX": -46, "titleY": 487}},
            "color": {"field": "s", "type": "nominal", "scale": {"domain": ["k", "r"], "range": ["#000000", "#e3221f"]}, "legend": null}
          }
        },
        {
          "data": {"name": "he2"},
          "transform": [{"fold": ["k", "r"], "as": ["s", "v"]}],
          "mark": {"type": "point", "opacity": 0},
          "encoding": {
            "x": {"field": "E", "type": "quantitative", "scale": {"domain": [20, -5], "nice": false, "zero": false},
                  "axis": {"orient": "bottom", "values": [17.5, 12.5, 7.5, 2.5, -2.5], "tickSize": 10, "labels": false, "domain": false, "title": null}},
            "y": {"field": "v", "type": "quantitative", "scale": {"domain": [-0.133, 15], "nice": false, "zero": false},
                  "axis": {"orient": "left", "values": [1, 3, 5, 7, 9, 11, 13, 15], "tickSize": 10, "labels": false, "domain": false, "title": null}}
          }
        },
        {
          "data": {"values": [{}]},
          "mark": {"type": "text", "text": "UPS", "fontSize": 44, "fontWeight": "bold", "align": "left", "baseline": "alphabetic", "color": "black"},
          "encoding": {"x": {"datum": 19.43, "type": "quantitative", "axis": null}, "y": {"datum": 13.95, "type": "quantitative", "axis": null}}
        },
        {
          "data": {"values": [{}]},
          "mark": {"type": "text", "text": "(HeII)", "fontSize": 45, "align": "left", "baseline": "alphabetic", "color": "black"},
          "encoding": {"x": {"datum": 19.43, "type": "quantitative", "axis": null}, "y": {"datum": 12.99, "type": "quantitative", "axis": null}}
        }
      ],
      "resolve": {"axis": {"x": "independent", "y": "independent"}}
    }
  ]
}
